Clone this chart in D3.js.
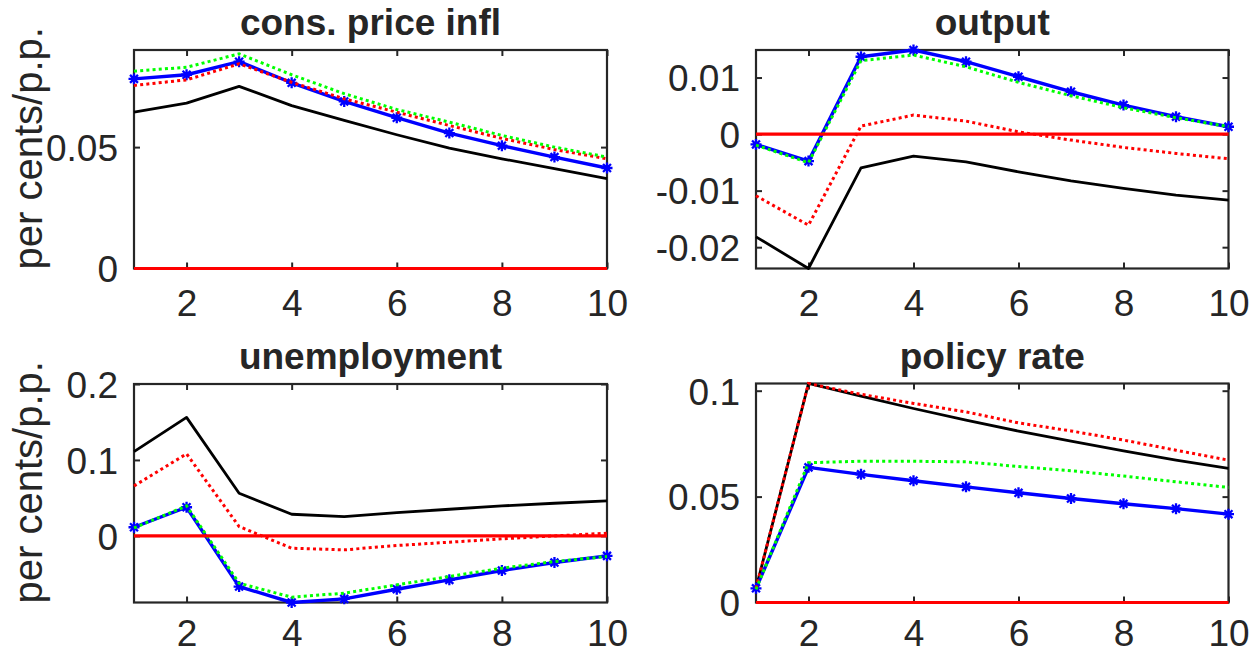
<!DOCTYPE html>
<html>
<head>
<meta charset="utf-8">
<script src="https://cdn.jsdelivr.net/npm/d3@7"></script>
<style>
  html, body { margin: 0; padding: 0; background: #ffffff; }
  svg { display: block; }
  text { font-family: "Liberation Sans", Arial, Helvetica, sans-serif; fill: #262626; }
</style>
</head>
<body>
<svg id="fig" width="1253" height="656"></svg>
<script>
// Horizon (quarters after the shock) and tick marks
const horizon = [1, 2, 3, 4, 5, 6, 7, 8, 9, 10];
const xTickValues = [2, 4, 6, 8, 10];

// Panel titles and the shared y-axis label
const panelTitles = ["cons. price infl", "output", "unemployment", "policy rate"];
const yAxisLabel = "per cents/p.p.";

// Consumer price inflation responses
const inflSolidBlack = [0.0644, 0.0681, 0.0750, 0.0671, 0.0610, 0.0551, 0.0496, 0.0452, 0.0411, 0.0370];
const inflDottedRed  = [0.0754, 0.0777, 0.0843, 0.0767, 0.0699, 0.0644, 0.0589, 0.0536, 0.0490, 0.0452];
const inflDottedGreen= [0.0813, 0.0829, 0.0884, 0.0798, 0.0720, 0.0655, 0.0603, 0.0548, 0.0500, 0.0459];
const inflStarBlue   = [0.0781, 0.0798, 0.0852, 0.0765, 0.0688, 0.0621, 0.0558, 0.0506, 0.0459, 0.0414];

// Output responses
const outSolidBlack  = [-0.01817, -0.02377, -0.00596, -0.00389, -0.00490, -0.00667, -0.00826, -0.00962, -0.01080, -0.01168];
const outDottedRed   = [-0.01091, -0.01611, 0.00142, 0.00336, 0.00230, 0.00040, -0.00106, -0.00236, -0.00342, -0.00437];
const outDottedGreen = [-0.00195, -0.00507, 0.01298, 0.01398, 0.01190, 0.00914, 0.00678, 0.00466, 0.00289, 0.00130];
const outStarBlue    = [-0.00183, -0.00478, 0.01368, 0.01487, 0.01280, 0.01014, 0.00749, 0.00513, 0.00307, 0.00130];

// Unemployment responses
const unempSolidBlack  = [0.1110, 0.1560, 0.0561, 0.0285, 0.0254, 0.0307, 0.0351, 0.0395, 0.0430, 0.0460];
const unempDottedRed   = [0.0658, 0.1080, 0.0123, -0.0162, -0.0184, -0.0127, -0.0083, -0.0039, 0.0000, 0.0035];
const unempDottedGreen = [0.0105, 0.0395, -0.0623, -0.0807, -0.0754, -0.0645, -0.0535, -0.0425, -0.0338, -0.0272];
const unempStarBlue    = [0.0114, 0.0377, -0.0667, -0.0877, -0.0829, -0.0702, -0.0579, -0.0456, -0.0351, -0.0263];

// Policy rate responses
const rateSolidBlack  = [0.0067, 0.1034, 0.0974, 0.0916, 0.0861, 0.0809, 0.0762, 0.0716, 0.0672, 0.0633];
const rateDottedRed   = [0.0067, 0.1034, 0.0983, 0.0940, 0.0900, 0.0848, 0.0810, 0.0767, 0.0719, 0.0672];
const rateDottedGreen = [0.0062, 0.0660, 0.0667, 0.0667, 0.0664, 0.0642, 0.0622, 0.0597, 0.0570, 0.0543];
const rateStarBlue    = [0.0067, 0.0638, 0.0605, 0.0575, 0.0546, 0.0518, 0.0491, 0.0466, 0.0443, 0.0417];

// Zero reference line
const zeroLine = horizon.map(() => 0);

// Y-axis limits and ticks per panel
const inflYLimits  = [0, 0.09];
const outYLimits   = [-0.02377, 0.01487];
const unempYLimits = [-0.0877, 0.2];
const rateYLimits  = [0, 0.1034];
const inflYTicks  = [0, 0.05];
const outYTicks   = [-0.02, -0.01, 0, 0.01];
const unempYTicks = [0, 0.1, 0.2];
const rateYTicks  = [0, 0.05, 0.1];

const panels = [
  { title: panelTitles[0], lim: inflYLimits, ticks: inflYTicks, ylabel: true, xPad: 21,
    box: { left: 134, right: 607, top: 50, bottom: 268.5 },
    black: inflSolidBlack, red: inflDottedRed, green: inflDottedGreen, blue: inflStarBlue },
  { title: panelTitles[1], lim: outYLimits, ticks: outYTicks, ylabel: false, xPad: 21,
    box: { left: 756, right: 1228.5, top: 50, bottom: 268.5 },
    black: outSolidBlack, red: outDottedRed, green: outDottedGreen, blue: outStarBlue },
  { title: panelTitles[2], lim: unempYLimits, ticks: unempYTicks, ylabel: true, xPad: 17,
    box: { left: 134, right: 607, top: 384, bottom: 602.5 },
    black: unempSolidBlack, red: unempDottedRed, green: unempDottedGreen, blue: unempStarBlue },
  { title: panelTitles[3], lim: rateYLimits, ticks: rateYTicks, ylabel: false, xPad: 17,
    box: { left: 756, right: 1228.5, top: 383.5, bottom: 602.5 },
    black: rateSolidBlack, red: rateDottedRed, green: rateDottedGreen, blue: rateStarBlue }
];

const svg = d3.select("#fig");
const axisColor = "#262626";
const tickFont = 37;
const labelFont = 40;
const titleFont = 37;
const tickLen = 6;

panels.forEach(p => {
  const b = p.box;
  const x = d3.scaleLinear().domain([1, 10]).range([b.left, b.right]);
  const y = d3.scaleLinear().domain(p.lim).range([b.bottom, b.top]);
  const g = svg.append("g");

  // Axes: ticks point inward on all four sides
  const styleAxis = sel => {
    sel.select(".domain").remove();
    sel.selectAll(".tick line").attr("stroke", axisColor).attr("stroke-width", 2);
    sel.selectAll(".tick text")
      .attr("fill", axisColor)
      .style("font-size", tickFont + "px")
      .style("font-family", "'Liberation Sans', Arial, sans-serif");
  };

  g.append("g").attr("transform", `translate(0,${b.bottom})`)
    .call(d3.axisBottom(x).tickValues(xTickValues).tickFormat(d => String(d))
      .tickSizeInner(-tickLen).tickSizeOuter(0).tickPadding(p.xPad))
    .call(styleAxis)
    .call(s => s.selectAll(".tick text").attr("dy", "0.71em"));

  g.append("g").attr("transform", `translate(0,${b.top})`)
    .call(d3.axisTop(x).tickValues(xTickValues).tickFormat("")
      .tickSizeInner(-tickLen).tickSizeOuter(0))
    .call(styleAxis);

  g.append("g").attr("transform", `translate(${b.left},0)`)
    .call(d3.axisLeft(y).tickValues(p.ticks).tickFormat(d => String(d))
      .tickSizeInner(-tickLen).tickSizeOuter(0).tickPadding(16))
    .call(styleAxis)
    .call(s => s.selectAll(".tick text").attr("dy", "0.36em"));

  g.append("g").attr("transform", `translate(${b.right},0)`)
    .call(d3.axisRight(y).tickValues(p.ticks).tickFormat("")
      .tickSizeInner(-tickLen).tickSizeOuter(0))
    .call(styleAxis);

  // Box
  g.append("rect")
    .attr("x", b.left).attr("y", b.top)
    .attr("width", b.right - b.left).attr("height", b.bottom - b.top)
    .attr("fill", "none").attr("stroke", axisColor).attr("stroke-width", 2.2);

  const line = d3.line().x((d, i) => x(horizon[i])).y(d => y(d));

  // Black solid response
  g.append("path").datum(p.black).attr("d", line)
    .attr("fill", "none").attr("stroke", "#000000").attr("stroke-width", 2.8)
    .attr("stroke-linejoin", "round");

  // Blue solid response with asterisk markers
  g.append("path").datum(p.blue).attr("d", line)
    .attr("fill", "none").attr("stroke", "#0000ff").attr("stroke-width", 3.4)
    .attr("stroke-linejoin", "round");
  const r = 5.5, rd = r * 0.72;
  const star = `M${-r},0L${r},0M0,${-r}L0,${r}M${-rd},${-rd}L${rd},${rd}M${-rd},${rd}L${rd},${-rd}`;
  g.append("g").selectAll("path").data(p.blue).join("path")
    .attr("transform", (d, i) => `translate(${x(horizon[i])},${y(d)})`)
    .attr("d", star)
    .attr("fill", "none").attr("stroke", "#0000ff").attr("stroke-width", 2.3);

  // Red dotted response
  g.append("path").datum(p.red).attr("d", line)
    .attr("fill", "none").attr("stroke", "#ff0000").attr("stroke-width", 3)
    .attr("stroke-dasharray", "3,3.2");

  // Green dotted response
  g.append("path").datum(p.green).attr("d", line)
    .attr("fill", "none").attr("stroke", "#00ff00").attr("stroke-width", 3)
    .attr("stroke-dasharray", "3,3.2");

  // Zero reference line
  g.append("path").datum(zeroLine).attr("d", line)
    .attr("fill", "none").attr("stroke", "#ff0000").attr("stroke-width", 3.2);

  // Title
  g.append("text")
    .attr("x", (b.left + b.right) / 2).attr("y", b.top - 15)
    .attr("text-anchor", "middle")
    .style("font-size", titleFont + "px").style("font-weight", "bold")
    .attr("fill", "#000000")
    .text(p.title);

  // Y-axis label on the left column
  if (p.ylabel) {
    const cy = (b.top + b.bottom) / 2 - 11;
    g.append("text")
      .attr("transform", `translate(42,${cy}) rotate(-90)`)
      .attr("text-anchor", "middle")
      .style("font-size", labelFont + "px")
      .attr("fill", axisColor)
      .text(yAxisLabel);
  }
});
</script>
</body>
</html>
